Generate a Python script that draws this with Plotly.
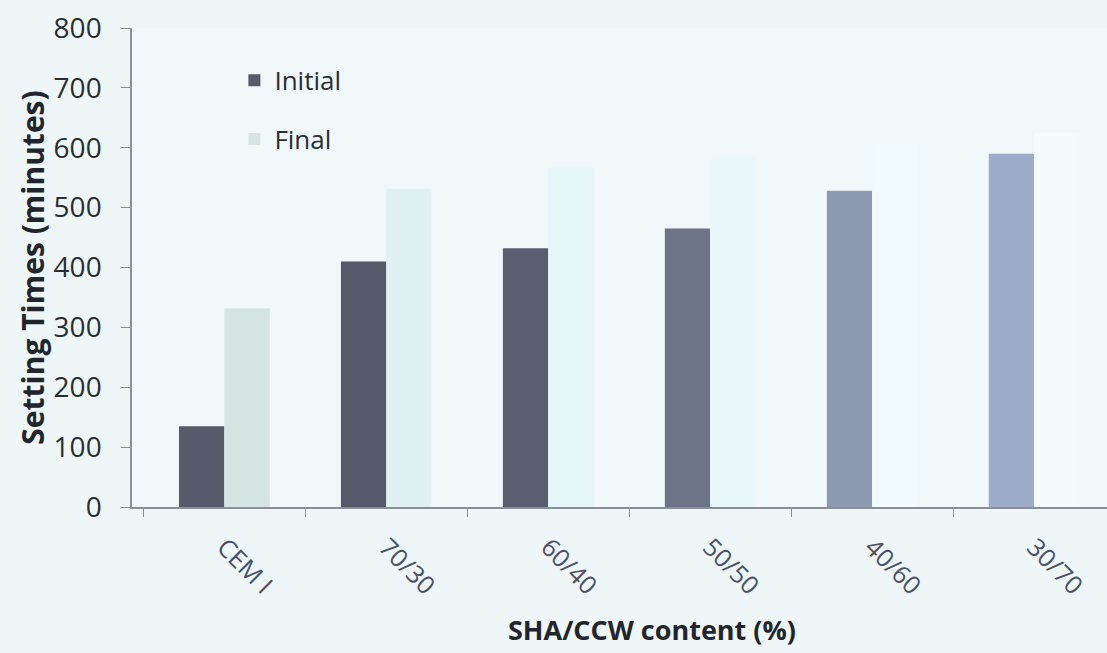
import plotly.graph_objects as go

# Setting times of the blended cements
mixes = ["CEM I", "70/30", "60/40", "50/50", "40/60", "30/70"]
initial_set = [135, 410, 432, 465, 528, 590]
final_set = [332, 532, 567, 583, 605, 625]

y_ticks = [0, 100, 200, 300, 400, 500, 600, 700, 800]

initial_colors = ["#565a6a", "#545869", "#5a5f70", "#6d7487", "#8e9ab2", "#9dadc9"]
final_colors = ["#d6e4e3", "#e0f1f4", "#e5f6f9", "#ebf8fb", "#f1fafc", "#f3fbfd"]

font_family = "'Open Sans', sans-serif"

fig = go.Figure()
fig.add_trace(go.Bar(
    x=mixes, y=initial_set, name="Initial", legendgroup="a",
    marker=dict(color=initial_colors, line=dict(width=0)),
))
fig.add_trace(go.Bar(
    x=mixes, y=final_set, name="Final", legendgroup="b",
    marker=dict(color=final_colors, line=dict(width=0)),
))

fig.update_layout(
    width=1107, height=653,
    margin=dict(l=132, r=0, t=28, b=146),
    paper_bgcolor="#eef6f8", plot_bgcolor="#f1f8fa",
    barmode="group", bargap=0.44, bargroupgap=0,
    font=dict(family=font_family, color="#2b2d33"),
    showlegend=True,
    legend=dict(
        x=0.105, y=0.94, xanchor="left", yanchor="top",
        bgcolor="rgba(0,0,0,0)", font=dict(size=26, color="#2b2d38"),
        tracegroupgap=22, traceorder="grouped", itemwidth=30,
    ),
    xaxis=dict(
        type="category", range=[-0.57, 5.45],
        showline=True, linecolor="#8a8f98", linewidth=1.5,
        ticks="outside", tickson="boundaries", ticklen=8, tickcolor="#8a8f98",
        tickangle=45, tickfont=dict(size=25, color="#4a5068"),
        ticklabelstandoff=14,
    ),
    yaxis=dict(
        range=[0, 800], tickvals=y_ticks, showgrid=False, zeroline=False,
        showline=True, linecolor="#8a8f98", linewidth=1.5,
        ticks="outside", ticklen=9, tickcolor="#8a8f98",
        tickfont=dict(size=28, color="#2b2d33"), ticklabelstandoff=14,
        title=dict(text="<b>Setting Times (minutes)</b>", font=dict(size=30, color="#23252c"), standoff=0),
    ),
    annotations=[
        dict(
            text="<b>SHA/CCW content (%)</b>", xref="paper", yref="paper",
            x=(652 - 132) / 975, y=(653 - 146 - 629) / 479,
            xanchor="center", yanchor="middle", showarrow=False,
            font=dict(size=27, color="#23252c"),
        )
    ],
)

fig.write_html("out.html")
